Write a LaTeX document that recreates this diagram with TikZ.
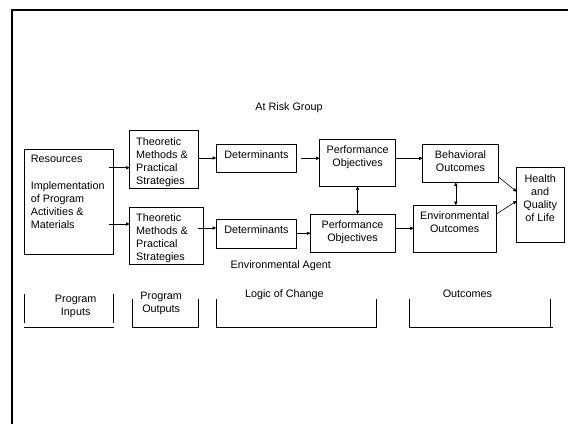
\documentclass[tikz,border=0pt]{standalone}
\usepackage{fontspec}
\setmainfont{Liberation Sans}
\usetikzlibrary{arrows.meta,calc}
\begin{document}
\begin{tikzpicture}[x=1pt,y=-1pt,
  every node/.style={font=\fontsize{10.8}{13}\selectfont, inner sep=0pt, outer sep=0pt},
  box/.style={draw, line width=0.9pt, rectangle, inner sep=0pt, outer sep=0pt},
  arr/.style={line width=0.6pt, -{Triangle[length=3.6pt,width=3.2pt]}},
  darr/.style={line width=0.6pt, {Triangle[length=3.6pt,width=3.2pt]}-{Triangle[length=3.6pt,width=3.2pt]}},
  brk/.style={line width=0.9pt}]
\useasboundingbox (0,0) rectangle (568,424);
% outer frame
\draw[line width=2pt] (11.5,424) -- (11.5,9.5) -- (568,9.5);
% boxes
\node[box, minimum width=89.1pt, minimum height=105pt] (res) at (68.85,201.5) {};
\node[box, minimum width=68.5pt, minimum height=57.6pt] (theo1) at (163.95,159.5) {};
\node[box, minimum width=73.3pt, minimum height=57.3pt] (theo2) at (166.35,235.65) {};
\node[box, minimum width=80.4pt, minimum height=28.4pt] (det1) at (256.5,158.5) {};
\node[box, minimum width=80.4pt, minimum height=28.7pt] (det2) at (256.5,233.65) {};
\node[box, minimum width=75.4pt, minimum height=47pt] (po1) at (357.3,162.8) {};
\node[box, minimum width=84.5pt, minimum height=38.4pt] (po2) at (352.75,233.5) {};
\node[box, minimum width=76.1pt, minimum height=38pt] (beh) at (460.85,163.3) {};
\node[box, minimum width=82.2pt, minimum height=47.4pt] (env) at (454.9,229) {};
\node[box, minimum width=47.4pt, minimum height=74.6pt] (health) at (540.4,205) {};
% texts
\node[anchor=west] (tres) at (30.8,159.3) {Resources};
\node[anchor=west, align=left] (timpl) at (30.8,204.7) {Implementation\\of Program\\Activities \&\\Materials};
\node[anchor=west, align=left] (ttheo1) at (136.2,161.8) {Theoretic\\Methods \&\\Practical\\Strategies};
\node[anchor=west, align=left] (ttheo2) at (136.2,237.8) {Theoretic\\Methods \&\\Practical\\Strategies};
\node (tdet1) at (256.5,154.3) {Determinants};
\node (tdet2) at (256.5,229.3) {Determinants};
\node[align=center] (tpo1) at (357.6,157.3) {Performance\\Objectives};
\node[align=center] (tpo2) at (352.5,232.3) {Performance\\Objectives};
\node[align=center] (tbeh) at (460.5,160.8) {Behavioral\\Outcomes};
\node[align=center] (tenv) at (454.7,221.8) {Environmental\\Outcomes};
\node[align=center] (thealth) at (540.2,197.8) {Health\\and\\Quality\\of Life};
\node (trisk) at (289,107.3) {At Risk Group};
\node (tagent) at (280.8,265.4) {Environmental Agent};
\node[align=center] (tin) at (75.7,306.8) {Program\\Inputs};
\node[align=center] (tout) at (161.2,303.7) {Program\\Outputs};
\node (tlogic) at (284.4,294.5) {Logic of Change};
\node (toutc) at (467.4,293.3) {Outcomes};
% connectors
\draw[arr] ($(res.east |- 0,167.7)+(-4.7,0)$) -- (theo1.west |- 0,167.7);
\draw[arr] ($(res.east |- 0,224)+(-4.7,0)$) -- (theo2.west |- 0,224);
\draw[arr] (theo1.east |- 0,158) -- (det1.west |- 0,158);
\draw[arr] ($(theo2.east |- 0,228)+(-4.8,0)$) -- (det2.west |- 0,228);
\draw[arr] ($(det1.east |- 0,158.3)+(4.3,0)$) -- (po1.west |- 0,158.3);
\draw[arr] (det2.east |- 0,233.3) -- (po2.west |- 0,233.3);
\draw[arr] (po1.east |- 0,158.3) -- (beh.west |- 0,158.3);
\draw[arr] (po2.east |- 0,228.3) -- (env.west |- 0,228.3);
\draw[darr] (po1.south -| 357.6,0) -- (po2.north -| 357.6,0);
\draw[darr] (beh.south -| 455.8,0) -- (env.north -| 455.8,0);
\draw[arr] (beh.east |- 0,177.3) -- (health.west |- 0,191.7);
\draw[arr] (env.east |- 0,214.3) -- (health.west |- 0,201);
% brackets
\draw[brk] (24.3,294.3) -- (24.3,323.3);
\draw[brk] (113.4,294.3) -- (113.4,323.3);
\draw[brk] (24.3,327.3) -- (114.1,327.3);
\draw[brk] (132.2,299.3) -- (132.2,327.3) -- (198.2,327.3) -- (198.2,299.3);
\draw[brk] (216.3,299.3) -- (216.3,327.3) -- (376.4,327.3) -- (376.4,299.3);
\draw[brk] (409,299.3) -- (409,327.3) -- (552.5,327.3);
\draw[brk] (550.4,299.3) -- (550.4,327.3);
\end{tikzpicture}
\end{document}
